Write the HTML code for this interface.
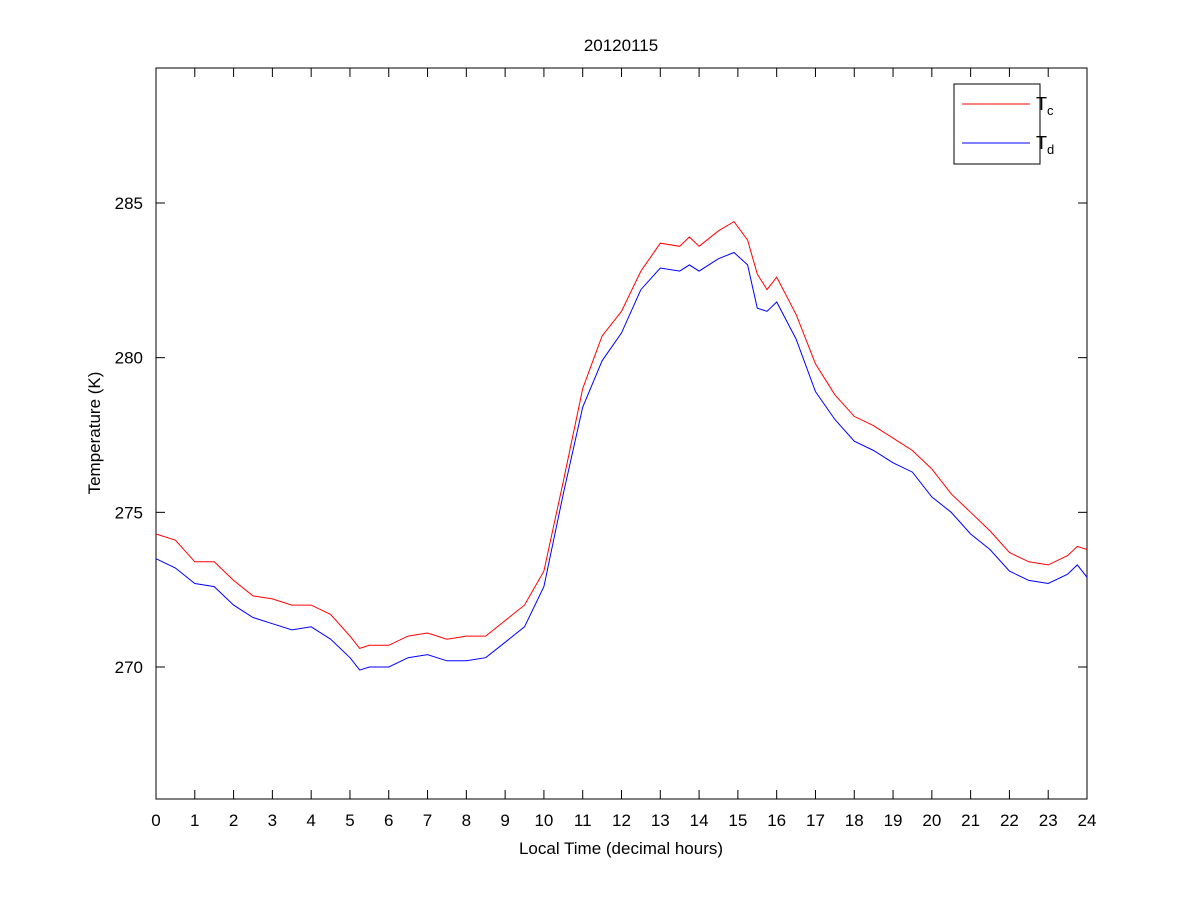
<!DOCTYPE html>
<html><head><meta charset="utf-8"><style>
body{margin:0;background:#fff;font-family:"Liberation Sans",Arial,sans-serif;}
svg text{font-family:"Liberation Sans",Arial,sans-serif;}
</style></head><body>
<svg id="chart" width="1201" height="900" xmlns="http://www.w3.org/2000/svg">
<rect width="1201" height="900" fill="#fff"/>
<g id="plot"></g>
</svg>
<script>
const hours=[0,0.5,1,1.5,2,2.5,3,3.5,4,4.5,5,5.25,5.5,6,6.5,7,7.5,8,8.5,9,9.5,10,10.5,11,11.5,12,12.5,13,13.5,13.75,14,14.5,14.9,15.25,15.5,15.75,16,16.5,17,17.5,18,18.5,19,19.5,20,20.5,21,21.5,22,22.5,23,23.5,23.75,24];
const tc=[274.3,274.1,273.4,273.4,272.8,272.3,272.2,272.0,272.0,271.7,271.0,270.6,270.7,270.7,271.0,271.1,270.9,271.0,271.0,271.5,272.0,273.1,276.0,279.0,280.7,281.5,282.8,283.7,283.6,283.9,283.6,284.1,284.4,283.8,282.7,282.2,282.6,281.4,279.8,278.8,278.1,277.8,277.4,277.0,276.4,275.6,275.0,274.4,273.7,273.4,273.3,273.6,273.9,273.8];
const td=[273.5,273.2,272.7,272.6,272.0,271.6,271.4,271.2,271.3,270.9,270.3,269.9,270.0,270.0,270.3,270.4,270.2,270.2,270.3,270.8,271.3,272.6,275.6,278.4,279.9,280.8,282.2,282.9,282.8,283.0,282.8,283.2,283.4,283.0,281.6,281.5,281.8,280.6,278.9,278.0,277.3,277.0,276.6,276.3,275.5,275.0,274.3,273.8,273.1,272.8,272.7,273.0,273.3,272.9];
const xTicks=[0,1,2,3,4,5,6,7,8,9,10,11,12,13,14,15,16,17,18,19,20,21,22,23,24];
const yTicks=[270,275,280,285];
const L=156,R=1087,T=68,B=799;
const x=v=>L+(v/24)*(R-L);
const y=v=>667-(v-270)*(464/15);
const NS="http://www.w3.org/2000/svg";
const g=document.getElementById('plot');
function mk(tag,attrs,parent){const e=document.createElementNS(NS,tag);for(const k in attrs)e.setAttribute(k,attrs[k]);(parent||g).appendChild(e);return e;}
const frame=mk('rect',{x:L,y:T,width:R-L,height:B-T,fill:'none',stroke:'#000','stroke-width':1});


xTicks.forEach(t=>{
  const p=x(t);
  mk('line',{x1:p,y1:B,x2:p,y2:B-9,stroke:'#000'});
  mk('line',{x1:p,y1:T,x2:p,y2:T+9,stroke:'#000'});
  const tx=mk('text',{x:p,y:826,'text-anchor':'middle','font-size':17});
  tx.textContent=t;
  
  
});
yTicks.forEach(t=>{
  const p=y(t);
  mk('line',{x1:L,y1:p,x2:L+9,y2:p,stroke:'#000'});
  mk('line',{x1:R,y1:p,x2:R-9,y2:p,stroke:'#000'});
  const tx=mk('text',{x:143,y:p+6,'text-anchor':'end','font-size':17});
  tx.textContent=t;
  
  
});
function line(arr,color,name){
  const d=hours.map((h,i)=>(i?'L':'M')+x(h).toFixed(1)+','+y(arr[i]).toFixed(1)).join(' ');
  const p=mk('path',{d:d,fill:'none',stroke:color,'stroke-width':1});
  
  
}
line(tc,'#ff0000','series-tc');
line(td,'#0000ff','series-td');
const title=mk('text',{x:621,y:51,'text-anchor':'middle','font-size':17});
title.textContent='20120115';


const xl=mk('text',{x:621,y:854,'text-anchor':'middle','font-size':17});
xl.textContent='Local Time (decimal hours)';


const yl=mk('text',{x:0,y:0,'text-anchor':'middle','font-size':17,transform:'translate(100,433) rotate(-90)'});
yl.textContent='Temperature (K)';


const lg=mk('g',{});


mk('rect',{x:954,y:84,width:86,height:80,fill:'#fff',stroke:'#000'},lg);
mk('line',{x1:962,y1:104,x2:1030,y2:104,stroke:'#ff0000'},lg);
mk('line',{x1:962,y1:143,x2:1030,y2:143,stroke:'#0000ff'},lg);
const t1=mk('text',{x:1036,y:110,'font-size':18},lg);
t1.innerHTML='T<tspan font-size="13" dy="5">c</tspan>';


const t2=mk('text',{x:1036,y:149,'font-size':18},lg);
t2.innerHTML='T<tspan font-size="13" dy="5">d</tspan>';


</script>
</body></html>
